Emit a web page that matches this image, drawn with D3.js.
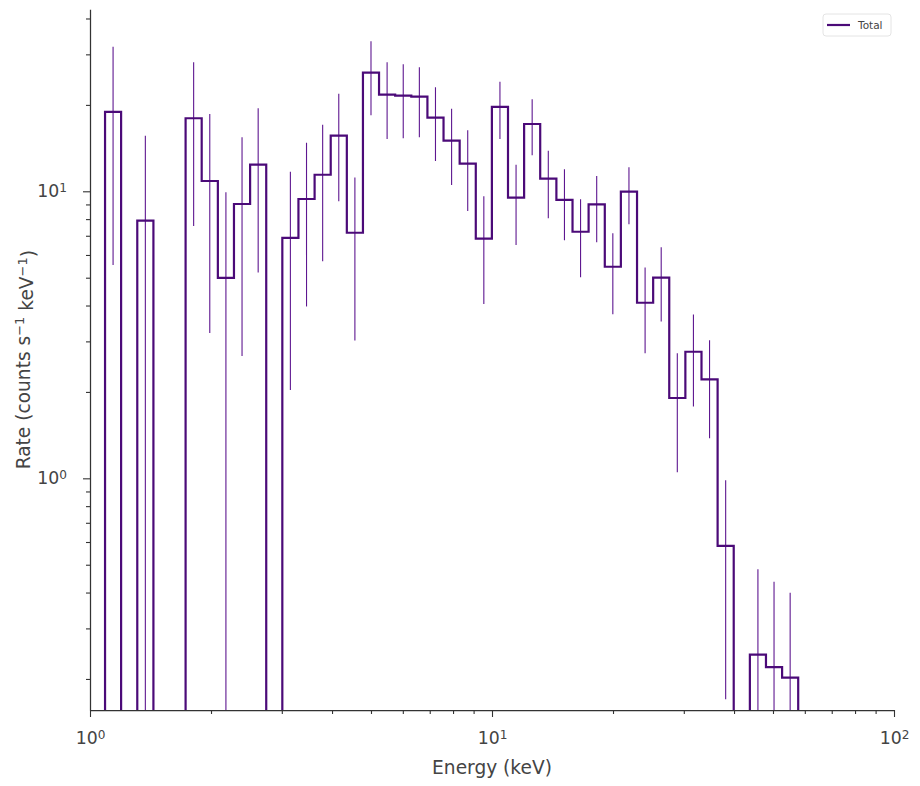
<!DOCTYPE html>
<html>
<head>
<meta charset="utf-8">
<script src="https://cdn.jsdelivr.net/npm/d3@7"></script>
<style>
  body { margin: 0; background: #fff; }
  text { font-family: "DejaVu Sans", sans-serif; }
</style>
</head>
<body>
<div id="chart"></div>
<script>
// bin edges in keV (log-spaced)
const edges = [1.090, 1.195, 1.311, 1.438, 1.577, 1.729, 1.896, 2.080, 2.281, 2.502,
  2.744, 3.009, 3.300, 3.620, 3.970, 4.354, 4.775, 5.236, 5.743, 6.299,
  6.908, 7.576, 8.309, 9.113, 9.993, 10.96, 12.02, 13.18, 14.46, 15.86,
  17.39, 19.08, 20.92, 22.95, 25.17, 27.60, 30.27, 33.20, 36.41, 39.93,
  43.80, 48.03, 52.68, 57.77];

// rate per bin, 0 = empty bin (drops off the log axis)
const rate = [18.9, 0, 7.90, 0, 0, 17.97, 10.86, 4.99, 9.03, 12.38,
  0, 6.88, 9.40, 11.42, 15.62, 7.17, 25.89, 21.71, 21.54, 21.36,
  18.05, 15.01, 12.48, 6.84, 19.67, 9.50, 17.16, 11.07, 9.33, 7.23,
  9.01, 5.46, 9.97, 4.09, 5.00, 1.905, 2.76, 2.21, 0.582, 0,
  0.243, 0.220, 0.202];

// error bar ends (null = no bar, 0 = lower end below the axis)
const errHigh = [31.9, null, 15.62, null, null, 28.15, 18.59, 9.92, 15.43, 19.46,
  null, 11.70, 14.77, 17.07, 21.88, 11.17, 33.32, 28.15, 27.70, 27.04,
  23.04, 19.40, 16.31, 9.61, 24.09, 12.38, 20.92, 13.85, 11.93, 9.38,
  11.31, 7.14, 12.12, 5.43, 6.38, 2.73, 3.72, 3.03, 0.984, null,
  0.482, 0.436, 0.399];
const errLow = [5.54, null, 0, null, null, 7.57, 3.21, 0, 2.67, 5.21,
  null, 2.03, 3.97, 5.70, 9.23, 3.02, 18.40, 15.22, 15.30, 15.43,
  12.75, 10.52, 8.54, 4.05, 15.22, 6.50, 13.35, 8.05, 6.75, 5.02,
  6.64, 3.73, 7.67, 2.73, 3.52, 1.049, 1.78, 1.38, 0.170, null,
  0, 0, 0];

const xMajor = [1, 10, 100];
const xMajorExp = ["0", "1", "2"];
const yMajor = [1, 10];
const yMajorExp = ["0", "1"];
const seriesName = "Total";

const width = 920, height = 786;
const margin = { top: 9.3, right: 26, bottom: 76, left: 90 };
const plotW = width - margin.left - margin.right;
const plotH = height - margin.top - margin.bottom;

const lineColor = "#4b0a78";
const errColor = "#5e1790";
const axisColor = "#333333";
const textColor = "#444444";

const svg = d3.select("#chart").append("svg")
  .attr("width", width)
  .attr("height", height);

const g = svg.append("g")
  .attr("transform", `translate(${margin.left}, ${margin.top})`);

const xScale = d3.scaleLog([1, 100], [0, plotW]);
const yScale = d3.scaleLog([0.1559, 43.06], [plotH, 0]);

const below = plotH + 30;   // where empty / clipped values go
const yPos = v => (v > 0 ? yScale(v) : below);

svg.append("defs").append("clipPath").attr("id", "plotclip")
  .append("rect").attr("x", 0).attr("y", 0).attr("width", plotW).attr("height", plotH);

const plot = g.append("g").attr("clip-path", "url(#plotclip)");

// error bars
const binIdx = d3.range(rate.length).filter(i => errHigh[i] !== null);
plot.selectAll("line.err")
  .data(binIdx)
  .enter().append("line")
  .attr("class", "err")
  .attr("x1", i => xScale(Math.sqrt(edges[i] * edges[i + 1])))
  .attr("x2", i => xScale(Math.sqrt(edges[i] * edges[i + 1])))
  .attr("y1", i => yPos(errHigh[i]))
  .attr("y2", i => yPos(errLow[i]))
  .attr("stroke", errColor)
  .attr("stroke-width", 1.1);

// step outline
const pts = [[xScale(edges[0]), below]];
rate.forEach((r, i) => {
  pts.push([xScale(edges[i]), yPos(r)]);
  pts.push([xScale(edges[i + 1]), yPos(r)]);
});
pts.push([xScale(edges[edges.length - 1]), below]);

plot.append("path")
  .attr("d", d3.line()(pts))
  .attr("fill", "none")
  .attr("stroke", lineColor)
  .attr("stroke-width", 2.2)
  .attr("stroke-linejoin", "miter");

// axes
function supLabels(sel, exps) {
  sel.selectAll(".tick text").each(function (d, i) {
    const t = d3.select(this).text("");
    t.append("tspan").text("10");
    t.append("tspan").attr("dy", "-0.45em").attr("font-size", "0.7em").text(exps[i]);
  });
}

const xMinor = [];
[1, 10].forEach(b => d3.range(2, 10).forEach(m => xMinor.push(b * m)));
const yMinor = [];
[0.1, 1, 10].forEach(b => d3.range(2, 10).forEach(m => {
  const v = b * m;
  if (v >= 0.1559 && v <= 43.06) yMinor.push(v);
}));

const gx = g.append("g")
  .attr("transform", `translate(0, ${plotH})`)
  .call(d3.axisBottom(xScale).tickValues(xMajor).tickSize(7).tickPadding(15).tickSizeOuter(0));
gx.selectAll("text").attr("font-size", 17.3).attr("fill", textColor);
supLabels(gx, xMajorExp);

const gxm = g.append("g")
  .attr("transform", `translate(0, ${plotH})`)
  .call(d3.axisBottom(xScale).tickValues(xMinor).tickSize(4).tickFormat("").tickSizeOuter(0));
gxm.select(".domain").remove();

const gy = g.append("g")
  .call(d3.axisLeft(yScale).tickValues(yMajor).tickSize(7).tickPadding(16).tickSizeOuter(0));
gy.selectAll("text").attr("font-size", 17.3).attr("fill", textColor);
supLabels(gy, yMajorExp);

const gym = g.append("g")
  .call(d3.axisLeft(yScale).tickValues(yMinor).tickSize(4).tickFormat("").tickSizeOuter(0));
gym.select(".domain").remove();

g.selectAll(".domain").attr("stroke", axisColor).attr("stroke-width", 1.25);
g.selectAll(".tick line").attr("stroke", axisColor).attr("stroke-width", 1.1);

// axis titles
g.append("text")
  .attr("x", plotW / 2)
  .attr("y", plotH + 64)
  .attr("text-anchor", "middle")
  .attr("font-size", 18.6)
  .attr("fill", textColor)
  .text("Energy (keV)");

const yt = g.append("text")
  .attr("transform", `translate(${-60}, ${plotH / 2}) rotate(-90)`)
  .attr("text-anchor", "middle")
  .attr("font-size", 18.6)
  .attr("fill", textColor);
yt.append("tspan").text("Rate (counts s");
yt.append("tspan").attr("dy", "-0.45em").attr("font-size", "0.7em").text("\u22121");
yt.append("tspan").attr("dy", "0.45em").text(" keV");
yt.append("tspan").attr("dy", "-0.45em").attr("font-size", "0.7em").text("\u22121");
yt.append("tspan").attr("dy", "0.45em").text(")");

// legend
const leg = svg.append("g").attr("transform", "translate(823, 14)");
leg.append("rect")
  .attr("width", 68).attr("height", 22).attr("rx", 3)
  .attr("fill", "#fff").attr("stroke", "#dddddd").attr("stroke-width", 0.8);
leg.append("line")
  .attr("x1", 4).attr("x2", 27).attr("y1", 11).attr("y2", 11)
  .attr("stroke", lineColor).attr("stroke-width", 2.2);
leg.append("text")
  .attr("x", 35).attr("y", 15)
  .attr("font-size", 10.5)
  .attr("fill", textColor)
  .text(seriesName);
</script>
</body>
</html>
